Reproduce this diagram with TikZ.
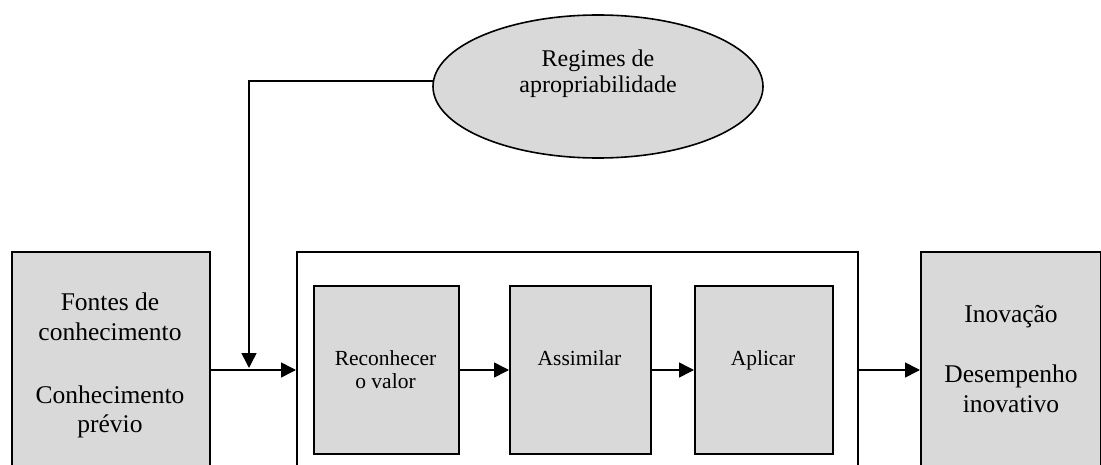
\documentclass[tikz,border=0pt]{standalone}
\usepackage{fontspec}
\setmainfont{Liberation Serif}
\usetikzlibrary{arrows.meta,shapes.geometric}

\definecolor{boxgray}{HTML}{D9D9D9}

\tikzset{
  frame/.style={draw=black, line width=1.6pt, inner sep=0pt, anchor=north west},
  graybox/.style={frame, fill=boxgray},
  txt/.style={inner sep=0pt, anchor=base},
  bigtxt/.style={txt, font=\fontsize{25.5}{30}\selectfont},
  steptxt/.style={txt, font=\fontsize{21.5}{23}\selectfont},
  regtxt/.style={txt, font=\fontsize{24}{26}\selectfont},
  arr/.style={line width=1.6pt, -{Triangle[length=15pt,width=15pt]}},
}

\begin{document}
\begin{tikzpicture}[x=1pt, y=-1pt]
  \useasboundingbox (0,0) rectangle (1101,465);
  \clip (0,0) rectangle (1101,465);

  % outer boxes (they run past the lower edge)
  \node[graybox, minimum width=198pt, minimum height=280pt] (src) at (11,251) {};
  \node[frame, minimum width=561pt, minimum height=280pt] (proc) at (296,251) {};
  \node[graybox, minimum width=180pt, minimum height=280pt] (out) at (920,251) {};

  % the three steps inside the process box
  \node[graybox, minimum width=145pt, minimum height=168pt] (rec) at (313,285) {};
  \node[graybox, minimum width=141pt, minimum height=168pt] (ass) at (509,285) {};
  \node[graybox, minimum width=138pt, minimum height=168pt] (apl) at (694,285) {};

  % appropriability regimes
  \node[draw=black, line width=1.6pt, fill=boxgray, ellipse, inner sep=0pt,
        minimum width=330pt, minimum height=143pt] (reg) at (598,86.5) {};

  % labels, one node per line, placed on their baselines
  \node[bigtxt] (src1) at (110,310) {Fontes de};
  \node[bigtxt] (src2) at (110,340) {conhecimento};
  \node[bigtxt] (src3) at (110,403) {Conhecimento};
  \node[bigtxt] (src4) at (110,432) {prévio};

  \node[bigtxt] (out1) at (1011,323) {Inovação};
  \node[bigtxt] (out2) at (1011,382) {Desempenho};
  \node[bigtxt] (out3) at (1011,412) {inovativo};

  \node[steptxt] (rec1) at (385.5,365) {Reconhecer};
  \node[steptxt] (rec2) at (385.5,388) {o valor};
  \node[steptxt] (ass1) at (579.5,365) {Assimilar};
  \node[steptxt] (apl1) at (763,365) {Aplicar};

  \node[regtxt] (reg1) at (598,67) {Regimes de};
  \node[regtxt] (reg2) at (598,93) {apropriabilidade};

  % flow row and junction of the moderating link
  \coordinate (row) at (0,370);
  \coordinate (join) at (249,368);

  \draw[arr] (src.east |- row) -- (proc.west |- row);
  \draw[arr] (rec.east |- row) -- (ass.west |- row);
  \draw[arr] (ass.east |- row) -- (apl.west |- row);
  \draw[arr] (proc.east |- row) -- (out.west |- row);
  \draw[arr] (reg.178) -| (join);
\end{tikzpicture}
\end{document}
